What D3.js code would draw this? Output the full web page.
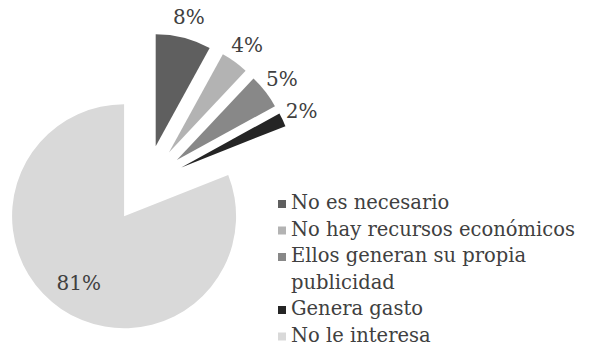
<!DOCTYPE html>
<html>
<head>
<meta charset="utf-8">
<script src="https://cdn.jsdelivr.net/npm/d3@7"></script>
<style>
  body { margin: 0; background: #fff; }
  text { font-family: "DejaVu Serif", serif; fill: #404040; }
</style>
</head>
<body>
<svg id="chart" width="600" height="353"></svg>
<script>
var width = 600, height = 353;

// data
var categories = ["No es necesario", "No hay recursos económicos", "Ellos generan su propia publicidad", "Genera gasto", "No le interesa"];
var values = [8, 4, 5, 2, 81];
var colors = ["#5f5f5f", "#b3b3b3", "#888888", "#252525", "#d9d9d9"];
// legend lines (the third entry wraps)
var legendLines = [["No es necesario"], ["No hay recursos económicos"], ["Ellos generan su propia", "publicidad"], ["Genera gasto"], ["No le interesa"]];

var radius = 112;
var explode = 39;          // every slice is pulled out from the centre
var center = [146, 184];

var svg = d3.select("#chart");

var pie = d3.pie().sort(null).value(function(d) { return d; });
var arcs = pie(values);

var arc = d3.arc().innerRadius(0).outerRadius(radius);

function mid(d) { return (d.startAngle + d.endAngle) / 2; }

var g = svg.append("g")
    .attr("transform", "translate(" + center[0] + "," + center[1] + ")");

var slice = g.selectAll(".slice")
    .data(arcs)
    .enter().append("g")
    .attr("class", "slice")
    .attr("transform", function(d) {
        var a = mid(d);
        return "translate(" + (Math.sin(a) * explode) + "," + (-Math.cos(a) * explode) + ")";
    });

slice.append("path")
    .attr("d", arc)
    .style("fill", function(d, i) { return colors[i]; });

// percentage labels: outside end for the small slices, inside for the big one
function labelR(d) { return d.value > 50 ? radius * 0.72 : radius + 21; }

slice.append("text")
    .attr("x", function(d) { return Math.sin(mid(d)) * labelR(d); })
    .attr("y", function(d) { return -Math.cos(mid(d)) * labelR(d); })
    .attr("dy", "0.35em")
    .style("text-anchor", "middle")
    .style("font-size", "20px")
    .text(function(d) { return d.value + "%"; });

// legend
var legend = svg.append("g").attr("transform", "translate(278,209)");
var lineH = 26.5;
var row = 0;
legendLines.forEach(function(lines, i) {
    legend.append("rect")
        .attr("x", 0)
        .attr("y", row * lineH - 9)
        .attr("width", 8)
        .attr("height", 8)
        .style("fill", colors[i]);
    lines.forEach(function(t, j) {
        legend.append("text")
            .attr("x", 13)
            .attr("y", (row + j) * lineH)
            .style("font-size", "19.5px")
            .text(t);
    });
    row += lines.length;
});
</script>
</body>
</html>
